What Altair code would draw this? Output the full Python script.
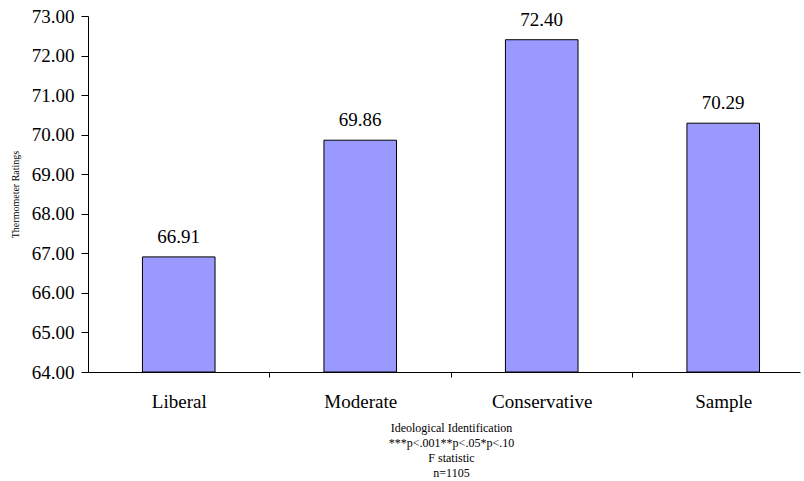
import altair as alt
import pandas as pd

# Mean thermometer ratings by ideological identification
categories = ["Liberal", "Moderate", "Conservative", "Sample"]
ratings = [66.91, 69.86, 72.40, 70.29]

Y_MIN, Y_MAX = 64, 73
BAR_HALF = 0.2  # half of the bar width, in category units

df = pd.DataFrame({
    "idx": list(range(len(categories))),
    "category": categories,
    "rating": ratings,
})
df["lo"] = df["idx"] - BAR_HALF
df["hi"] = df["idx"] + BAR_HALF

serif = "Liberation Serif"

# category names shown at integer positions, ticks at the half-way boundaries
names_js = "[" + ",".join(f"'{c}'" for c in categories) + "]"
label_expr = f"datum.value % 1 == 0 ? {names_js}[datum.value] : ''"

x_scale = alt.Scale(domain=[-0.5, 3.423], nice=False, zero=False)
y_scale = alt.Scale(domain=[Y_MIN, Y_MAX], nice=False, zero=False)

x_axis = alt.Axis(
    values=[0, 0.5, 1, 1.5, 2, 2.5, 3],
    tickCount=20,
    labelExpr=label_expr,
    tickOpacity={"condition": {"test": "datum.value % 1 == 0", "value": 0}, "value": 1},
    tickSize=5,
    tickColor="black",
    domainColor="black",
    grid=False,
    labelFont=serif,
    labelFontSize=19,
    labelColor="black",
    labelBaseline="alphabetic",
    labelPadding=30,
    labelFlush=False,
    labelOverlap=False,
    title=["Ideological Identification", "***p<.001**p<.05*p<.10", "F statistic", "n=1105"],
    titleFont=serif,
    titleFontSize=12,
    titleFontWeight="normal",
    titleColor="black",
    titleLineHeight=15,
    titleBaseline="top",
    titleAlign="center",
    titleX=363,
    titleY=50,
)

# one tick per rating point; tickCount must cover all of them or Vega thins them
y_axis = alt.Axis(
    values=list(range(Y_MIN, Y_MAX + 1)),
    tickCount=20,
    format=".2f",
    tickSize=7,
    tickColor="black",
    domainColor="black",
    grid=False,
    labelFont=serif,
    labelFontSize=19,
    labelColor="black",
    labelPadding=7,
    labelOverlap=False,
    labelFlush=False,
    labelBound=False,
    title="Thermometer Ratings",
    titleFont=serif,
    titleFontSize=10,
    titleFontWeight="normal",
    titleColor="black",
    titleX=-73,
    titleY=178,
    titleBaseline="middle",
    titleAlign="center",
)

bars = alt.Chart(df).mark_bar(
    color="#9999FF", stroke="black", strokeWidth=1
).encode(
    x=alt.X("lo:Q", scale=x_scale, axis=x_axis),
    x2="hi:Q",
    y=alt.Y("rating:Q", scale=y_scale, axis=y_axis),
    y2=alt.datum(Y_MIN),
)

labels = alt.Chart(df).mark_text(
    font=serif, fontSize=19, color="black", baseline="alphabetic", dy=-14
).encode(
    x=alt.X("idx:Q", scale=x_scale, axis=x_axis),
    y=alt.Y("rating:Q", scale=y_scale, axis=y_axis),
    text=alt.Text("rating:Q", format=".2f"),
)

chart = alt.layer(bars, labels).properties(
    width=712,
    height=356,
    autosize=alt.AutoSizeParams(type="none"),
    padding={"left": 88, "top": 16, "right": 4, "bottom": 109},
    background="white",
).configure_view(stroke=None)

chart.save("out.html", embed_options={"renderer": "svg", "actions": False})
